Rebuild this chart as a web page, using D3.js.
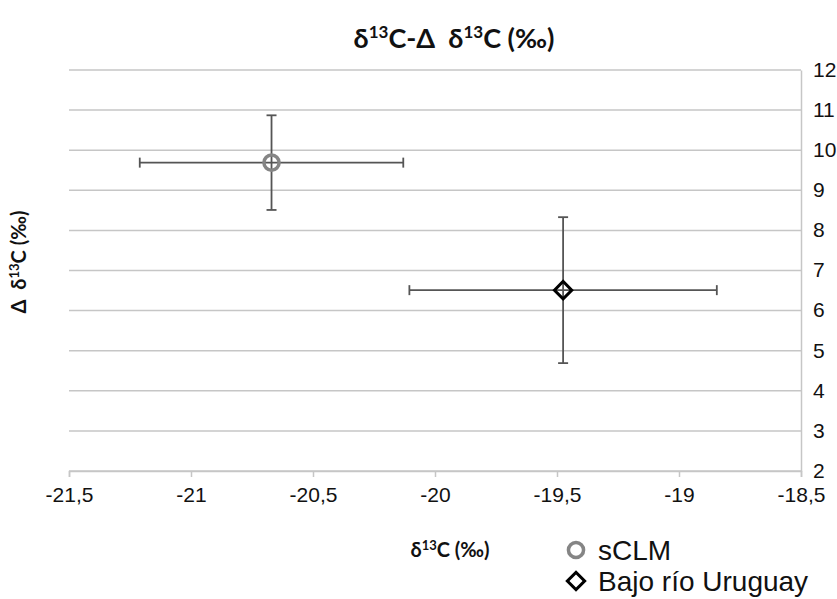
<!DOCTYPE html>
<html>
<head>
<meta charset="utf-8">
<script src="https://cdn.jsdelivr.net/npm/d3@7"></script>
<style>
  body { margin: 0; background: #fff; }
  svg { display: block; }
</style>
</head>
<body>
<svg id="chart" width="837" height="599"></svg>
<script>
const series = ["sCLM", "Bajo río Uruguay"];
const xValues = [-20.67, -19.475];
const yValues = [9.69, 6.51];
const xErrors = [0.54, 0.63];
const yErrors = [1.18, 1.82];
const xTicks = [-21.5, -21, -20.5, -20, -19.5, -19, -18.5];
const yTicks = [2, 3, 4, 5, 6, 7, 8, 9, 10, 11, 12];

const svg = d3.select("#chart");
const x = d3.scaleLinear().domain([-21.5, -18.5]).range([69, 801]);
const y = d3.scaleLinear().domain([2, 12]).range([471, 70]);
const fmt = (d) => String(d).replace(".", ",");
const tickFont = "'Liberation Sans', Arial, sans-serif";

// gridlines
svg.append("g")
  .selectAll("line")
  .data(yTicks)
  .enter()
  .append("line")
  .attr("x1", x(-21.5))
  .attr("x2", x(-18.5))
  .attr("y1", (d) => y(d))
  .attr("y2", (d) => y(d))
  .attr("stroke", "#c6c6c6")
  .attr("stroke-width", 1.5);

// bottom axis
const xAxis = svg.append("g")
  .attr("transform", `translate(0,${y(2)})`)
  .call(d3.axisBottom(x).tickValues(xTicks).tickFormat(fmt).tickSize(6).tickPadding(10));
xAxis.attr("font-size", 21).attr("font-family", tickFont);
xAxis.select(".domain").attr("stroke", "#c6c6c6").attr("stroke-width", 1.5);
xAxis.selectAll(".tick line").attr("stroke", "#c6c6c6").attr("stroke-width", 1.5);
xAxis.selectAll("text").attr("fill", "#111");

// right axis
const yAxis = svg.append("g")
  .attr("transform", `translate(${x(-18.5)},0)`)
  .call(d3.axisRight(y).tickValues(yTicks).tickSize(0).tickPadding(12));
yAxis.attr("font-size", 21).attr("font-family", tickFont);
yAxis.select(".domain").attr("stroke", "#c6c6c6").attr("stroke-width", 1.5);
yAxis.selectAll("text")
  .attr("fill", "#111")
  .attr("dy", "0.3em");

// error bars
const pts = series.map((s, i) => ({
  name: s, x: xValues[i], y: yValues[i], ex: xErrors[i], ey: yErrors[i]
}));
const cap = 5;
const eb = svg.append("g").attr("stroke", "#555").attr("stroke-width", 1.8);
pts.forEach((p) => {
  eb.append("line")
    .attr("x1", x(p.x - p.ex)).attr("x2", x(p.x + p.ex))
    .attr("y1", y(p.y)).attr("y2", y(p.y));
  eb.append("line")
    .attr("x1", x(p.x)).attr("x2", x(p.x))
    .attr("y1", y(p.y - p.ey)).attr("y2", y(p.y + p.ey));
  [p.x - p.ex, p.x + p.ex].forEach((v) => {
    eb.append("line")
      .attr("x1", x(v)).attr("x2", x(v))
      .attr("y1", y(p.y) - cap).attr("y2", y(p.y) + cap);
  });
  [p.y - p.ey, p.y + p.ey].forEach((v) => {
    eb.append("line")
      .attr("x1", x(p.x) - cap).attr("x2", x(p.x) + cap)
      .attr("y1", y(v)).attr("y2", y(v));
  });
});

// markers: grey ring and a square turned 45 degrees
const circle = d3.symbol().type(d3.symbolCircle).size(180);
const square = d3.symbol().type(d3.symbolSquare).size(150);
const markerStyle = [
  { path: circle(), stroke: "#858585", width: 3.5, rot: 0 },
  { path: square(), stroke: "#000", width: 3, rot: 45 }
];

svg.append("g")
  .selectAll("path")
  .data(pts)
  .enter()
  .append("path")
  .attr("d", (d, i) => markerStyle[i].path)
  .attr("transform", (d, i) => `translate(${x(d.x)},${y(d.y)}) rotate(${markerStyle[i].rot})`)
  .attr("fill", "none")
  .attr("stroke", (d, i) => markerStyle[i].stroke)
  .attr("stroke-width", (d, i) => markerStyle[i].width);

// title
const boldFont = "Lato, 'Open Sans', sans-serif";
const title = svg.append("text")
  .attr("x", 454).attr("y", 48)
  .attr("text-anchor", "middle")
  .attr("font-family", boldFont)
  .attr("font-weight", "bold")
  .attr("font-size", 27)
  .attr("fill", "#111");
title.append("tspan").text("δ");
title.append("tspan").text("13").attr("font-size", 17).attr("dy", -10);
title.append("tspan").text("C-Δ\u00a0\u00a0δ").attr("dy", 10);
title.append("tspan").text("13").attr("font-size", 17).attr("dy", -10);
title.append("tspan").text("C (‰)").attr("dy", 10);

// x axis title
const xt = svg.append("text")
  .attr("x", 450).attr("y", 557)
  .attr("text-anchor", "middle")
  .attr("font-family", boldFont)
  .attr("font-weight", "bold")
  .attr("font-size", 20)
  .attr("fill", "#111");
xt.append("tspan").text("δ");
xt.append("tspan").text("13").attr("font-size", 13).attr("dy", -7);
xt.append("tspan").text("C (‰)").attr("dy", 7);

// y axis title
const yt = svg.append("text")
  .attr("transform", "translate(26,262) rotate(-90)")
  .attr("text-anchor", "middle")
  .attr("font-family", boldFont)
  .attr("font-weight", "bold")
  .attr("font-size", 20)
  .attr("fill", "#111");
yt.append("tspan").text("Δ\u00a0\u00a0δ");
yt.append("tspan").text("13").attr("font-size", 13).attr("dy", -7);
yt.append("tspan").text("C (‰)").attr("dy", 7);

// legend
const legend = svg.append("g")
  .selectAll("g")
  .data(pts)
  .enter()
  .append("g")
  .attr("transform", (d, i) => `translate(576,${550 + i * 31})`);
legend.append("path")
  .attr("d", (d, i) => markerStyle[i].path)
  .attr("transform", (d, i) => `rotate(${markerStyle[i].rot})`)
  .attr("fill", "none")
  .attr("stroke", (d, i) => markerStyle[i].stroke)
  .attr("stroke-width", (d, i) => markerStyle[i].width);
legend.append("text")
  .attr("x", 22).attr("y", 10)
  .attr("font-family", tickFont)
  .attr("font-size", 28)
  .attr("fill", "#111")
  .text((d) => d.name);
</script>
</body>
</html>
